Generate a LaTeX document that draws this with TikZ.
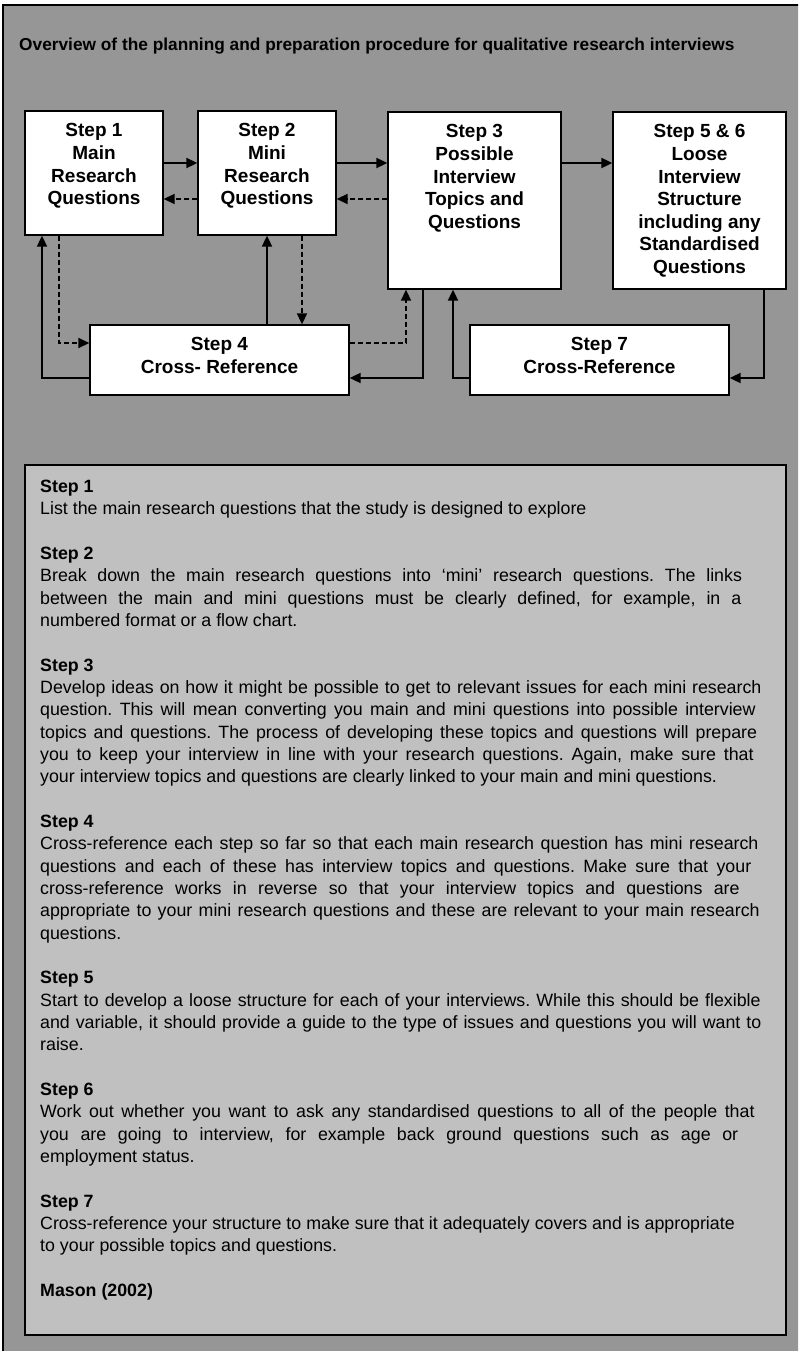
\documentclass[tikz,border=0pt]{standalone}
\usepackage{fontspec}
\setmainfont{Liberation Sans}
\usetikzlibrary{arrows.meta,positioning}

\definecolor{panelgray}{RGB}{150,150,150}
\definecolor{notegray}{RGB}{192,192,192}

\tikzset{
    stepbox/.style={draw, fill=white, line width=1.3pt},
    steptext/.style={align=center, inner sep=0pt, font=\fontsize{19}{22.6}\selectfont\bfseries},
    solidarrow/.style={line width=1.8pt, -{Triangle[length=11pt,width=10pt]}},
    dasharrow/.style={line width=1.5pt, dash pattern=on 5pt off 3pt, -{Triangle[length=11pt,width=10pt]}}
}
\newcommand{\notehead}[1]{\vspace{22.33pt}\textbf{#1}\par}

\begin{document}
\begin{tikzpicture}[x=1pt,y=-1pt]
    \useasboundingbox (0,0) rectangle (798,1351);
    \clip (0,0) rectangle (798,1351);
    % Рисуем фон
    \fill[white] (0,0) rectangle (798,1351);
    \draw[fill=panelgray, line width=1.3pt] (3,5) rectangle (812,1368);
    \node[anchor=base west, inner sep=0pt, font=\fontsize{17.3}{20}\selectfont\bfseries] (title) at (19,51)
        {Overview of the planning and preparation procedure for qualitative research interviews};

    % Рисуем блоки
    \node[stepbox, minimum width=138pt, minimum height=124pt] (s1) at (94,173) {};
    \node[stepbox, minimum width=138pt, minimum height=124pt] (s2) at (267,173) {};
    \node[stepbox, minimum width=173pt, minimum height=177pt] (s3) at (474.5,200.5) {};
    \node[stepbox, minimum width=173pt, minimum height=177pt] (s56) at (699.5,200.5) {};
    \node[stepbox, minimum width=259pt, minimum height=70pt] (s4) at (219.5,360) {};
    \node[stepbox, minimum width=259pt, minimum height=70pt] (s7) at (599.5,360) {};

    \node[steptext, below=13pt of s1.north] (t1) {Step 1\\Main\\Research\\Questions};
    \node[steptext, below=13pt of s2.north] (t2) {Step 2\\Mini\\Research\\Questions};
    \node[steptext, below=13pt of s3.north] (t3) {Step 3\\Possible\\Interview\\Topics and\\Questions};
    \node[steptext, below=13pt of s56.north] (t56) {Step 5 \& 6\\Loose\\Interview\\Structure\\including any\\Standardised\\Questions};
    \node[steptext, below=13pt of s4.north] (t4) {Step 4\\Cross- Reference};
    \node[steptext, below=13pt of s7.north] (t7) {Step 7\\Cross-Reference};

    % Ряды и столбцы для стрелок
    \coordinate (fw) at (0,163);
    \coordinate (bw) at (0,199);
    \coordinate (dr) at (0,343);
    \coordinate (sr) at (0,378);
    \coordinate (c1) at (59,0);
    \coordinate (c2) at (42,0);
    \coordinate (c3) at (267,0);
    \coordinate (c4) at (302,0);
    \coordinate (c5) at (406,0);
    \coordinate (c6) at (423,0);
    \coordinate (c7) at (453,0);
    \coordinate (c8) at (764,0);

    % Стрелки
    \draw[solidarrow] (s1.east |- fw) -- (s2.west |- fw);
    \draw[dasharrow] (s2.west |- bw) -- (s1.east |- bw);
    \draw[solidarrow] (s2.east |- fw) -- (s3.west |- fw);
    \draw[dasharrow] (s3.west |- bw) -- (s2.east |- bw);
    \draw[solidarrow] (s3.east |- fw) -- (s56.west |- fw);
    \draw[dasharrow] (s1.south -| c1) |- (s4.west |- dr);
    \draw[solidarrow] (s4.west |- sr) -| (s1.south -| c2);
    \draw[solidarrow] (s4.north -| c3) -- (s2.south -| c3);
    \draw[dasharrow] (s2.south -| c4) -- (s4.north -| c4);
    \draw[dasharrow] (s4.east |- dr) -| (s3.south -| c5);
    \draw[solidarrow] (s3.south -| c6) |- (s4.east |- sr);
    \draw[solidarrow] (s7.west |- sr) -| (s3.south -| c7);
    \draw[solidarrow] (s56.south -| c8) |- (s7.east |- sr);

    % Пояснения к шагам
    \draw[fill=notegray, line width=1.5pt] (25,465) rectangle (786,1335);
    \node[anchor=north west, inner sep=0pt, text width=725pt, font=\fontsize{17.8}{22.33}\selectfont] (notes) at (40,480) {%
        \parindent=0pt \hyphenpenalty=10000 \tolerance=9999 \frenchspacing
        \spaceskip=0.278em plus 0.5em minus 0.17em
        \textbf{Step 1}\par
        List the main research questions that the study is designed to explore\par
        \notehead{Step 2}
        Break down the main research questions into ‘mini’ research questions. The links\linebreak
        between the main and mini questions must be clearly defined, for example, in a\linebreak
        numbered format or a flow chart.\par
        \notehead{Step 3}
        Develop ideas on how it might be possible to get to relevant issues for each mini research\linebreak
        question. This will mean converting you main and mini questions into possible interview\linebreak
        topics and questions. The process of developing these topics and questions will prepare\linebreak
        you to keep your interview in line with your research questions. Again, make sure that\linebreak
        your interview topics and questions are clearly linked to your main and mini questions.\par
        \notehead{Step 4}
        Cross-reference each step so far so that each main research question has mini research\linebreak
        questions and each of these has interview topics and questions. Make sure that your\linebreak
        cross-reference works in reverse so that your interview topics and questions are\linebreak
        appropriate to your mini research questions and these are relevant to your main research\linebreak
        questions.\par
        \notehead{Step 5}
        Start to develop a loose structure for each of your interviews. While this should be flexible\linebreak
        and variable, it should provide a guide to the type of issues and questions you will want to\linebreak
        raise.\par
        \notehead{Step 6}
        Work out whether you want to ask any standardised questions to all of the people that\linebreak
        you are going to interview, for example back ground questions such as age or\linebreak
        employment status.\par
        \notehead{Step 7}
        Cross-reference your structure to make sure that it adequately covers and is appropriate\\
        to your possible topics and questions.\par
        \notehead{Mason (2002)}
    };
\end{tikzpicture}
\end{document}
